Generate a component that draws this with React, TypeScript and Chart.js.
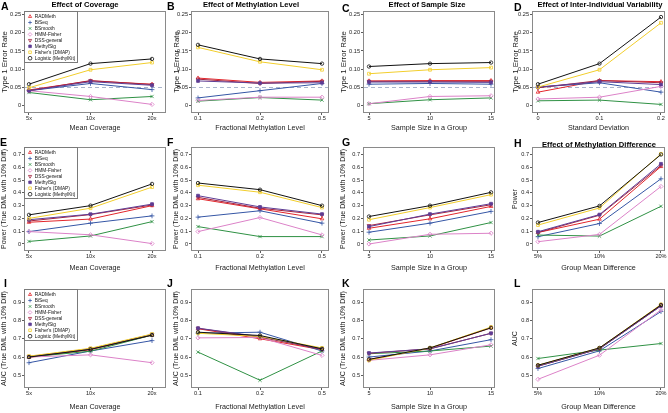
import React, { useEffect, useRef } from "react";
import { Chart, registerables } from "chart.js";

Chart.register(...registerables);

const FONT = "'Liberation Sans', Arial, Helvetica, sans-serif";
const INK = "#1a1a1a";

// ---------- methods & styles ----------
const methods = ["RADMeth", "BiSeq", "BSmooth", "HMM-Fisher", "DSS-general", "MethylSig", "Fisher's (DMAP)", "Logistic (MethylKit)"];
const methodColors = ["#E3262B", "#3556A5", "#2F9144", "#DC82C8", "#A5233F", "#5E3D94", "#F2CE2C", "#111111"];
const methodShapes = ["triangle", "cross", "crossRot", "rectRot", "triangle", "rect", "rect", "circle"];
const methodRotations = [0, 0, 0, 0, 180, 0, 0, 0];
const methodFilled = [false, false, false, false, false, true, false, false];
const methodRadius = [2.1, 2.4, 2.3, 2.1, 2.1, 2.0, 2.0, 1.7];

// ---------- categories ----------
const coverageLabels = ["5x", "10x", "20x"];
const methLevelLabels = ["0.1", "0.2", "0.5"];
const sampleSizeLabels = ["5", "10", "15"];
const sdLabels = ["0", "0.1", "0.2"];
const diffLabels = ["5%", "10%", "20%"];

// ---------- tick labels ----------
const errTicks = [0, 0.05, 0.1, 0.15, 0.2, 0.25];
const errTickLabels = ["0", "0.05", "0.10", "0.15", "0.20", "0.25"];
const powerTicks = [0, 0.1, 0.2, 0.3, 0.4, 0.5, 0.6, 0.7];
const powerTickLabels = ["0", "0.1", "0.2", "0.3", "0.4", "0.5", "0.6", "0.7"];
const aucTicks = [0.5, 0.6, 0.7, 0.8, 0.9];
const aucTickLabels = ["0.5", "0.6", "0.7", "0.8", "0.9"];
const nominalLevel = 0.05;

// ---------- series (order = methods) ----------
const typeIErrCoverage = [
  [0.042, 0.067, 0.058],
  [0.040, 0.060, 0.043],
  [0.035, 0.015, 0.024],
  [0.040, 0.024, 0.002],
  [0.040, 0.068, 0.057],
  [0.040, 0.065, 0.055],
  [0.048, 0.098, 0.118],
  [0.058, 0.115, 0.128],
];
const typeIErrMethLevel = [
  [0.075, 0.063, 0.067],
  [0.020, 0.040, 0.060],
  [0.011, 0.021, 0.014],
  [0.013, 0.022, 0.022],
  [0.072, 0.060, 0.066],
  [0.067, 0.061, 0.062],
  [0.160, 0.120, 0.098],
  [0.167, 0.128, 0.115],
];
const typeIErrSampleSize = [
  [0.067, 0.068, 0.068],
  [0.058, 0.060, 0.058],
  [0.004, 0.015, 0.020],
  [0.004, 0.024, 0.026],
  [0.066, 0.066, 0.066],
  [0.064, 0.064, 0.063],
  [0.087, 0.098, 0.104],
  [0.107, 0.115, 0.118],
];
const typeIErrVariability = [
  [0.036, 0.068, 0.065],
  [0.050, 0.062, 0.036],
  [0.012, 0.014, 0.002],
  [0.017, 0.022, 0.052],
  [0.048, 0.068, 0.062],
  [0.050, 0.065, 0.057],
  [0.050, 0.098, 0.228],
  [0.058, 0.115, 0.244],
];
const powerCoverage = [
  [0.170, 0.195, 0.300],
  [0.097, 0.163, 0.220],
  [0.020, 0.063, 0.175],
  [0.097, 0.072, 0.003],
  [0.180, 0.230, 0.305],
  [0.190, 0.233, 0.312],
  [0.200, 0.280, 0.445],
  [0.228, 0.300, 0.470],
];
const powerMethLevel = [
  [0.354, 0.275, 0.197],
  [0.210, 0.260, 0.163],
  [0.136, 0.058, 0.058],
  [0.097, 0.207, 0.071],
  [0.365, 0.280, 0.228],
  [0.378, 0.290, 0.234],
  [0.460, 0.405, 0.285],
  [0.477, 0.425, 0.300],
];
const powerSampleSize = [
  [0.123, 0.197, 0.294],
  [0.092, 0.163, 0.255],
  [0.031, 0.063, 0.168],
  [0.000, 0.076, 0.084],
  [0.144, 0.228, 0.307],
  [0.136, 0.234, 0.315],
  [0.190, 0.285, 0.386],
  [0.215, 0.300, 0.404],
];
const powerDifference = [
  [0.090, 0.194, 0.606],
  [0.057, 0.160, 0.510],
  [0.070, 0.062, 0.295],
  [0.018, 0.075, 0.450],
  [0.090, 0.225, 0.614],
  [0.096, 0.230, 0.627],
  [0.148, 0.282, 0.705],
  [0.168, 0.298, 0.700],
];
const aucCoverage = [
  [0.598, 0.640, 0.720],
  [0.569, 0.633, 0.690],
  [0.600, 0.632, 0.720],
  [0.600, 0.612, 0.569],
  [0.602, 0.645, 0.722],
  [0.602, 0.645, 0.724],
  [0.605, 0.648, 0.726],
  [0.600, 0.642, 0.720],
];
const aucMethLevel = [
  [0.755, 0.700, 0.640],
  [0.730, 0.736, 0.633],
  [0.627, 0.473, 0.633],
  [0.705, 0.707, 0.609],
  [0.757, 0.709, 0.642],
  [0.758, 0.712, 0.645],
  [0.730, 0.713, 0.650],
  [0.736, 0.718, 0.645],
];
const aucSampleSize = [
  [0.587, 0.648, 0.760],
  [0.600, 0.633, 0.695],
  [0.618, 0.633, 0.660],
  [0.582, 0.612, 0.667],
  [0.620, 0.645, 0.730],
  [0.622, 0.645, 0.730],
  [0.582, 0.650, 0.764],
  [0.587, 0.650, 0.760],
];
const aucDifference = [
  [0.553, 0.648, 0.885],
  [0.537, 0.634, 0.849],
  [0.592, 0.638, 0.674],
  [0.478, 0.610, 0.858],
  [0.550, 0.645, 0.880],
  [0.550, 0.645, 0.880],
  [0.555, 0.650, 0.888],
  [0.555, 0.650, 0.885],
];

// ---------- layout ----------
const rowLayout = [
  { top: 0, height: 135, padTop: 12, padBottom: 3, xAxisH: 20, yMin: -0.019, yMax: 0.258, yTitleSize: 7.8, ticks: errTicks, tickLabels: errTickLabels },
  { top: 135, height: 137, padTop: 13, padBottom: 0, xAxisH: 22, yMin: -0.047, yMax: 0.751, yTitleSize: 7, ticks: powerTicks, tickLabels: powerTickLabels },
  { top: 272, height: 141, padTop: 18, padBottom: 2, xAxisH: 24, yMin: 0.436, yMax: 0.967, yTitleSize: 7, ticks: aucTicks, tickLabels: aucTickLabels },
];
const colLayout = [
  { left: 0, width: 167, padLeft: 0, yAxisW: 25, padRight: 2, xMin: -0.065, xMax: 2.211 },
  { left: 165, width: 168, padLeft: 7, yAxisW: 20, padRight: 5, xMin: -0.097, xMax: 2.097 },
  { left: 333, width: 168, padLeft: 6, yAxisW: 25, padRight: 7, xMin: -0.082, xMax: 2.049 },
  { left: 501, width: 167, padLeft: 10, yAxisW: 22, padRight: 4, xMin: -0.081, xMax: 2.049 },
];

const panels = [
  { letter: "A", lx: 1, ly: 2, title: "Effect of Coverage", tx: 85, ty: 5, row: 0, col: 0, series: typeIErrCoverage, cats: coverageLabels, xTitle: "Mean Coverage", yTitle: "Type 1 Error Rate", legend: true, refLine: true },
  { letter: "B", lx: 167, ly: 2, title: "Effect of Methylation Level", tx: 251, ty: 5, row: 0, col: 1, series: typeIErrMethLevel, cats: methLevelLabels, xTitle: "Fractional Methylation Level", yTitle: "Type 1 Error Rate", refLine: true },
  { letter: "C", lx: 342, ly: 4, title: "Effect of Sample Size", tx: 427, ty: 5, row: 0, col: 2, series: typeIErrSampleSize, cats: sampleSizeLabels, xTitle: "Sample Size in a Group", yTitle: "Type 1 Error Rate", refLine: true },
  { letter: "D", lx: 514, ly: 3, title: "Effect of Inter-Individual Variability", tx: 600, ty: 5, row: 0, col: 3, series: typeIErrVariability, cats: sdLabels, xTitle: "Standard Deviation", yTitle: "Type 1 Error Rate", refLine: true },
  { letter: "E", lx: 0, ly: 138, row: 1, col: 0, series: powerCoverage, cats: coverageLabels, xTitle: "Mean Coverage", yTitle: "Power (True DML with 10% Diff)", legend: true },
  { letter: "F", lx: 167, ly: 138, row: 1, col: 1, series: powerMethLevel, cats: methLevelLabels, xTitle: "Fractional Methylation Level", yTitle: "Power (True DML with 10% Diff)" },
  { letter: "G", lx: 342, ly: 138, row: 1, col: 2, series: powerSampleSize, cats: sampleSizeLabels, xTitle: "Sample Size in a Group", yTitle: "Power (True DML with 10% Diff)" },
  { letter: "H", lx: 514, ly: 139, title: "Effect of Methylation Difference", tx: 599, ty: 144.5, row: 1, col: 3, series: powerDifference, cats: diffLabels, xTitle: "Group Mean Difference", yTitle: "Power" },
  { letter: "I", lx: 4, ly: 279, row: 2, col: 0, series: aucCoverage, cats: coverageLabels, xTitle: "Mean Coverage", yTitle: "AUC (True DML with 10% Diff)", legend: true },
  { letter: "J", lx: 167, ly: 279, row: 2, col: 1, series: aucMethLevel, cats: methLevelLabels, xTitle: "Fractional Methylation Level", yTitle: "AUC (True DML with 10% Diff)" },
  { letter: "K", lx: 342, ly: 279, row: 2, col: 2, series: aucSampleSize, cats: sampleSizeLabels, xTitle: "Sample Size in a Group", yTitle: "AUC (True DML with 10% Diff)" },
  { letter: "L", lx: 514, ly: 279, row: 2, col: 3, series: aucDifference, cats: diffLabels, xTitle: "Group Mean Difference", yTitle: "AUC" },
];

const LEG_FONT = 4.8;
const LEG_PAD = 1.15;

function makeDecor(spec: any, row: any, col: any) {
  return {
    id: "panelDecor",
    afterLayout(chart: any) {
      const lg = chart.legend;
      if (spec.legend && lg) {
        const a = chart.chartArea;
        lg.left = a.left + 1.5;
        lg.top = a.top + 1;
        lg.right = a.right;
        lg.bottom = a.bottom;
      }
    },
    beforeDatasetsDraw(chart: any) {
      if (!spec.refLine) return;
      const { ctx, chartArea: a } = chart;
      const y = Math.round(chart.scales.y.getPixelForValue(nominalLevel)) + 0.5;
      ctx.save();
      ctx.strokeStyle = "#A9B5CC";
      ctx.lineWidth = 1;
      ctx.setLineDash([4, 3]);
      ctx.beginPath();
      ctx.moveTo(a.left, y);
      ctx.lineTo(a.right, y);
      ctx.stroke();
      ctx.restore();
    },
    afterDraw(chart: any) {
      const { ctx, chartArea: a } = chart;
      ctx.save();
      ctx.strokeStyle = "#8a8a8a";
      ctx.lineWidth = 1;
      const l = Math.round(a.left) - 0.5;
      const t = Math.round(a.top) - 0.5;
      ctx.strokeRect(l, t, Math.round(a.right) - Math.round(a.left) + 1, Math.round(a.bottom) - Math.round(a.top) + 1);
      if (spec.legend && chart.legend) {
        const lg: any = chart.legend;
        const boxes = lg.legendHitBoxes || [];
        const w = boxes.length ? Math.max(...boxes.map((b: any) => b.width)) : 0;
        const h = lg.columnSizes && lg.columnSizes[0] ? lg.columnSizes[0].height : methods.length * (LEG_FONT + LEG_PAD);
        const x1 = lg.left + LEG_PAD + w + 1.5;
        const y1 = lg.top + LEG_PAD + h + 0.5;
        ctx.strokeStyle = "#7a7a7a";
        ctx.strokeRect(l, t, Math.round(x1) - l + 0.5, Math.round(y1) - t + 0.5);
      }
      ctx.fillStyle = "#000";
      ctx.textAlign = "left";
      ctx.textBaseline = "alphabetic";
      ctx.font = `bold 10.5px ${FONT}`;
      ctx.fillText(spec.letter, spec.lx - col.left, spec.ly - row.top + 7.6);
      if (spec.title) {
        ctx.font = `bold 7.6px ${FONT}`;
        ctx.textAlign = "center";
        ctx.textBaseline = "middle";
        ctx.fillText(spec.title, spec.tx - col.left, spec.ty - row.top);
      }
      ctx.restore();
    },
  };
}

function Panel({ spec }: { spec: any }) {
  const ref = useRef<HTMLCanvasElement>(null);
  const row = rowLayout[spec.row];
  const col = colLayout[spec.col];
  useEffect(() => {
    if (!ref.current) return;
    const datasets = methods.map((m, i) => ({
      label: m,
      data: spec.series[i].map((v: number, j: number) => ({ x: j, y: v })),
      borderColor: methodColors[i],
      backgroundColor: methodFilled[i] ? methodColors[i] : "rgba(0,0,0,0)",
      pointBackgroundColor: methodFilled[i] ? methodColors[i] : "rgba(0,0,0,0)",
      pointBorderColor: methodColors[i],
      pointStyle: methodShapes[i],
      pointRotation: methodRotations[i],
      pointRadius: methodRadius[i],
      pointBorderWidth: 0.8,
      borderWidth: 1,
      tension: 0,
      fill: false,
      order: methods.length - 1 - i,
    }));
    const tickFont = { family: FONT, size: 5.6 };
    const gridOpts = { drawOnChartArea: false, drawTicks: true, tickLength: 3, color: "#333", lineWidth: 0.8 };
    const chart = new Chart(ref.current, {
      type: "line",
      data: { datasets } as any,
      options: {
        animation: false,
        responsive: false,
        maintainAspectRatio: false,
        events: [],
        layout: {
          autoPadding: false,
          padding: { left: col.padLeft, right: col.padRight, top: row.padTop, bottom: row.padBottom },
        },
        scales: {
          x: {
            type: "linear",
            min: col.xMin,
            max: col.xMax,
            afterBuildTicks: (s: any) => {
              s.ticks = spec.cats.map((_: string, j: number) => ({ value: j }));
            },
            afterFit: (s: any) => {
              s.height = row.xAxisH;
            },
            ticks: {
              autoSkip: false,
              maxRotation: 0,
              minRotation: 0,
              padding: 0.5,
              color: INK,
              font: tickFont,
              callback: (_v: any, i: number) => spec.cats[i],
            },
            grid: gridOpts,
            border: { display: false },
            title: { display: true, text: spec.xTitle, color: INK, font: { family: FONT, size: 7.2 }, padding: 0 },
          },
          y: {
            type: "linear",
            min: row.yMin,
            max: row.yMax,
            afterBuildTicks: (s: any) => {
              s.ticks = row.ticks.map((v: number) => ({ value: v }));
            },
            afterFit: (s: any) => {
              s.width = col.yAxisW;
            },
            ticks: {
              autoSkip: false,
              padding: 1,
              color: INK,
              font: tickFont,
              callback: (_v: any, i: number) => row.tickLabels[i],
            },
            grid: gridOpts,
            border: { display: false },
            title: { display: true, text: spec.yTitle, color: INK, font: { family: FONT, size: row.yTitleSize }, padding: 0 },
          },
        },
        plugins: {
          tooltip: { enabled: false },
          title: { display: false },
          legend: spec.legend
            ? {
                display: true,
                position: "chartArea",
                align: "start",
                labels: {
                  usePointStyle: true,
                  boxWidth: LEG_FONT,
                  boxHeight: 2.6,
                  padding: LEG_PAD,
                  color: "#111",
                  font: { family: FONT, size: LEG_FONT },
                  sort: (a: any, b: any) => a.datasetIndex - b.datasetIndex,
                },
              }
            : { display: false },
        },
      } as any,
      plugins: [makeDecor(spec, row, col)],
    });
    return () => chart.destroy();
  }, []);
  return (
    <canvas
      ref={ref}
      width={col.width}
      height={row.height}
      style={{ position: "absolute", left: col.left, top: row.top, width: col.width, height: row.height }}
    />
  );
}

export default function App() {
  return (
    <div style={{ position: "fixed", left: 0, top: 0, width: 668, height: 413, background: "#fff", overflow: "hidden" }}>
      {panels.map((p) => (
        <Panel key={p.letter} spec={p} />
      ))}
    </div>
  );
}
